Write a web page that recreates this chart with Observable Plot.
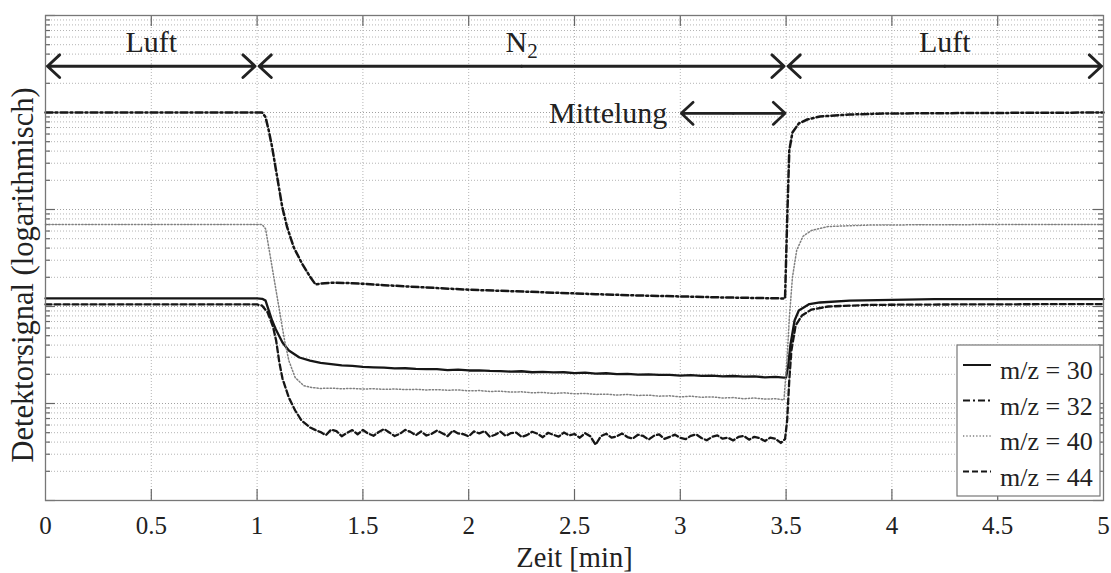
<!DOCTYPE html>
<html><head><meta charset="utf-8">
<script src="https://cdn.jsdelivr.net/npm/d3@7"></script>
<script src="https://cdn.jsdelivr.net/npm/@observablehq/plot@0.6"></script>
<style>
html,body{margin:0;padding:0;background:#fff;}
#chart{width:1111px;height:573px;}
</style></head><body><div id="chart"></div>
<script>
// ---------- data ----------
const seriesNames = ["m/z = 30", "m/z = 32", "m/z = 40", "m/z = 44"];

const t30 = [0, 0.5, 1.0, 1.024, 1.04, 1.055, 1.071, 1.087, 1.12, 1.15, 1.2, 1.25,
  1.30, 1.35, 1.40, 1.45, 1.50, 1.55, 1.60, 1.65, 1.70, 1.75, 1.80, 1.85, 1.90, 1.95,
  2.00, 2.05, 2.10, 2.15, 2.20, 2.25, 2.30, 2.35, 2.40, 2.45, 2.50, 2.55, 2.60, 2.65,
  2.70, 2.75, 2.80, 2.85, 2.90, 2.95, 3.00, 3.05, 3.10, 3.15, 3.20, 3.25, 3.30, 3.35,
  3.40, 3.45, 3.49, 3.50, 3.51, 3.52, 3.54, 3.56, 3.61, 3.66, 3.8, 4.2, 4.6, 5.0];
const v30 = [121, 121, 121, 120, 115, 91.0, 71.7, 58.9, 42.6, 35.2, 29.8, 27.7,
  26.2, 25.4, 24.7, 24.4, 23.9, 23.6, 23.4, 23.0, 23.1, 22.7, 22.6, 22.6, 22.1, 22.4,
  21.9, 22.0, 21.7, 21.6, 21.3, 21.5, 21.0, 21.2, 20.9, 21.0, 20.6, 20.8, 20.3, 20.5,
  20.1, 20.2, 19.8, 20.0, 19.7, 19.7, 19.4, 19.6, 19.3, 19.4, 19.0, 19.2, 18.9, 19.0,
  18.6, 18.8, 18.5, 18.6, 24.6, 39.6, 71.7, 91.0, 106, 110, 115, 119, 119, 119];

const t32 = [0, 0.5, 1.0, 1.024, 1.04, 1.055, 1.071, 1.087, 1.103, 1.119, 1.142, 1.173,
  1.213, 1.252, 1.276, 1.32, 1.36, 1.45, 1.6, 1.8, 2.0, 2.2, 2.4, 2.6, 2.8, 3.0, 3.2,
  3.4, 3.495, 3.505, 3.515, 3.53, 3.56, 3.6, 3.66, 3.8, 3.97, 4.5, 5.0];
const v32 = [10000, 10000, 10000, 10000, 8950, 6520, 4390, 2730, 1700, 1057, 657, 408,
  275, 200, 169, 174, 176, 174, 166, 157, 149, 144, 139, 134, 130, 127, 124,
  122, 121, 771, 4060, 6220, 7710, 8470, 9100, 9530, 9770, 9900, 10000];

const t40 = [0, 0.5, 1.0, 1.024, 1.04, 1.055, 1.071, 1.087, 1.103, 1.119, 1.13, 1.15,
  1.18, 1.22, 1.26, 1.30, 1.35, 1.40, 1.45, 1.50, 1.55, 1.60, 1.65, 1.70, 1.75, 1.80,
  1.85, 1.90, 1.95, 2.00, 2.05, 2.10, 2.15, 2.20, 2.25, 2.30, 2.35, 2.40, 2.45, 2.50,
  2.55, 2.60, 2.65, 2.70, 2.75, 2.80, 2.85, 2.90, 2.95, 3.00, 3.05, 3.10, 3.15, 3.20,
  3.25, 3.30, 3.35, 3.40, 3.45, 3.49, 3.505, 3.515, 3.53, 3.55, 3.58, 3.62, 3.7, 3.9,
  4.5, 5.0];
const v40 = [700, 700, 700, 700, 632, 409, 254, 158, 98.4, 61.2, 44.6, 27.7,
  18.5, 15.3, 14.6, 14.3, 14.4, 14.2, 14.3, 14.1, 14.2, 14.0, 14.1, 13.9, 14.0, 13.8,
  13.9, 13.7, 13.8, 13.5, 13.6, 13.3, 13.4, 13.1, 13.2, 12.9, 13.0, 12.7, 12.9, 12.6,
  12.7, 12.4, 12.5, 12.2, 12.4, 12.1, 12.2, 11.9, 12.0, 11.7, 11.9, 11.6, 11.7, 11.4,
  11.5, 11.2, 11.4, 11.1, 11.2, 10.9, 30, 75, 200, 380, 530, 608, 668, 692,
  700, 700];

const t44 = [0, 0.5, 1.0, 1.024, 1.05, 1.075, 1.09, 1.105, 1.12, 1.15, 1.18, 1.21, 1.25, 1.28,
  1.300, 1.325, 1.350, 1.375, 1.400, 1.425, 1.450, 1.475, 1.500, 1.525, 1.550, 1.575,
  1.600, 1.625, 1.650, 1.675, 1.700, 1.725, 1.750, 1.775, 1.800, 1.825, 1.850, 1.875,
  1.900, 1.925, 1.950, 1.975, 2.000, 2.025, 2.050, 2.075, 2.100, 2.125, 2.150, 2.175,
  2.200, 2.225, 2.250, 2.275, 2.300, 2.325, 2.350, 2.375, 2.400, 2.425, 2.450, 2.475,
  2.500, 2.525, 2.550, 2.575, 2.600, 2.625, 2.650, 2.675, 2.700, 2.725, 2.750, 2.775,
  2.800, 2.825, 2.850, 2.875, 2.900, 2.925, 2.950, 2.975, 3.000, 3.025, 3.050, 3.075,
  3.100, 3.125, 3.150, 3.175, 3.200, 3.225, 3.250, 3.275, 3.300, 3.325, 3.350, 3.375,
  3.400, 3.425, 3.450, 3.475,
  3.495, 3.505, 3.515, 3.525, 3.545, 3.575, 3.62, 3.7, 3.9, 4.3, 5.0];
const v44 = [105, 105, 105, 102, 86.7, 62.2, 44.6, 26.5, 18.1, 11.5, 8.47, 6.68, 5.66, 5.27,
  5.07, 4.72, 5.39, 5.19, 4.60, 4.97, 5.32, 4.82, 5.33, 4.90, 4.65, 5.09,
  5.46, 5.03, 4.62, 4.88, 5.35, 5.10, 4.71, 5.15, 4.68, 4.87, 5.26, 4.94,
  4.61, 5.26, 4.91, 4.83, 4.58, 5.15, 4.92, 5.20, 4.55, 4.76, 5.13, 4.63,
  4.96, 5.01, 4.52, 4.72, 5.11, 4.88, 4.49, 4.99, 4.76, 4.55, 5.02, 4.68,
  4.85, 4.44, 4.95, 4.59, 3.76, 4.61, 4.88, 4.44, 4.59, 4.90, 4.51, 4.35,
  4.76, 4.63, 4.24, 4.64, 4.81, 4.32, 4.53, 4.77, 4.42, 4.29, 4.64, 4.80,
  4.41, 4.18, 4.53, 4.69, 4.34, 4.45, 4.16, 4.52, 4.63, 4.24, 4.53, 4.39,
  4.10, 4.45, 4.32, 3.92,
  4.30, 6.7, 17.3, 35.2, 63.7, 80.8, 93.1, 100, 104, 105, 106];

const seriesT = [t30, t32, t40, t44];
const seriesV = [v30, v32, v40, v44];

// x ticks and labels
const xTicks = [0, 0.5, 1, 1.5, 2, 2.5, 3, 3.5, 4, 4.5, 5];
const xTickLabels = ["0", "0.5", "1", "1.5", "2", "2.5", "3", "3.5", "4", "4.5", "5"];
const xLabel = "Zeit [min]";
const yLabel = "Detektorsignal (logarithmisch)";
const yDecades = [1, 10, 100, 1000, 10000, 100000];
const yMultiples = [2, 3, 4, 5, 6, 7, 8, 9];

// annotations
const phaseLabels = ["Luft", "N2", "Luft"];
const phaseStart = [0, 1, 3.5];
const phaseEnd = [1, 3.5, 5];
const phaseArrowLevel = 30000;
const avgLabel = "Mittelung";
const avgStart = 3.0;
const avgEnd = 3.5;
const avgLevel = 9800;

// ---------- styles ----------
const lineStyles = [
  {stroke: "#161616", strokeWidth: 2.3, dash: null},
  {stroke: "#161616", strokeWidth: 2.5, dash: "7,3,2,3"},
  {stroke: "#808080", strokeWidth: 1.5, dash: "1.3,2"},
  {stroke: "#161616", strokeWidth: 2.3, dash: "6,3"}
];

const W = 1111, H = 573;
const mL = 45, mR = 8, mT = 15, mB = 73;
const fw = W - mL - mR, fh = H - mT - mB;
const gridColor = "#b4b4b4";
const tickColor = "#666";
const fontFamily = "'Liberation Serif', 'Times New Roman', serif";

const yMinor = yDecades.slice(0, -1).flatMap(d => yMultiples.map(m => m * d));

const lineMarks = seriesNames.map((name, i) => {
  const rows = seriesT[i].map((t, j) => ({t, v: seriesV[i][j]}));
  const s = lineStyles[i];
  return Plot.line(rows, {x: "t", y: "v", stroke: s.stroke, strokeWidth: s.strokeWidth,
    strokeDasharray: s.dash || undefined, strokeLinejoin: "round"});
});

const phaseArrows = phaseLabels.flatMap((l, i) => {
  const mid = (phaseStart[i] + phaseEnd[i]) / 2;
  return [{a: mid, b: phaseStart[i]}, {a: mid, b: phaseEnd[i]}];
});
const avgMid = (avgStart + avgEnd) / 2;
const avgArrows = [{a: avgMid, b: avgStart}, {a: avgMid, b: avgEnd}];

const plot = Plot.plot({
  width: W, height: H,
  marginLeft: mL, marginRight: mR, marginTop: mT, marginBottom: mB,
  x: {domain: [0, 5], axis: null},
  y: {type: "log", domain: [1, 100000], axis: null},
  style: {fontFamily, fontSize: "25px", background: "white", color: "#222"},
  marks: [
    // grid
    Plot.ruleY(yMinor, {y: d => d, stroke: gridColor, strokeWidth: 1, strokeDasharray: "1,2"}),
    Plot.ruleY(yDecades, {y: d => d, stroke: "#a0a0a0", strokeWidth: 1, strokeDasharray: "1,2"}),
    Plot.ruleX(xTicks.slice(1, -1), {x: d => d, stroke: gridColor, strokeWidth: 1, strokeDasharray: "1,2"}),
    // ticks (inside)
    Plot.ruleY(yDecades, {y: d => d, insetRight: fw - 10, stroke: tickColor, strokeWidth: 1.2}),
    Plot.ruleY(yDecades, {y: d => d, insetLeft: fw - 10, stroke: tickColor, strokeWidth: 1.2}),
    Plot.ruleY(yMinor, {y: d => d, insetRight: fw - 5, stroke: tickColor, strokeWidth: 1.2}),
    Plot.ruleY(yMinor, {y: d => d, insetLeft: fw - 5, stroke: tickColor, strokeWidth: 1.2}),
    Plot.ruleX(xTicks.slice(1, -1), {x: d => d, insetTop: fh - 11, stroke: tickColor, strokeWidth: 1.2}),
    Plot.ruleX(xTicks.slice(1, -1), {x: d => d, insetBottom: fh - 11, stroke: tickColor, strokeWidth: 1.2}),
    // data
    ...lineMarks,
    Plot.frame({stroke: "#777", strokeWidth: 1.3}),
    // tick labels + axis labels
    Plot.text(xTicks, {x: d => d, text: (d, i) => xTickLabels[i], frameAnchor: "bottom", lineAnchor: "middle",
      textAnchor: "middle", dy: 25, fontSize: 25, fill: "#222"}),
    Plot.text([xLabel], {text: d => d, frameAnchor: "bottom", lineAnchor: "middle", textAnchor: "middle",
      dy: 57, fontSize: 28.5, fill: "#222"}),
    Plot.text([yLabel], {text: d => d, frameAnchor: "left", lineAnchor: "middle", textAnchor: "middle",
      rotate: -90, dx: -22, dy: 17, fontSize: 30.5, fill: "#222"}),
    // annotations
    Plot.arrow(phaseArrows, {x1: "a", x2: "b", y1: () => phaseArrowLevel, y2: () => phaseArrowLevel,
      stroke: "#222", strokeWidth: 2.9, headLength: 8.6, headAngle: 86, insetEnd: 2}),
    Plot.text(phaseLabels, {x: (d, i) => (phaseStart[i] + phaseEnd[i]) / 2, text: d => d,
      frameAnchor: "top", lineAnchor: "middle", textAnchor: "middle", dy: 27, fontSize: 30, fill: "#222"}),
    Plot.arrow(avgArrows, {x1: "a", x2: "b", y1: () => avgLevel, y2: () => avgLevel,
      stroke: "#222", strokeWidth: 2.7, headLength: 9, headAngle: 86, insetEnd: 1}),
    Plot.text([avgLabel], {x: () => avgStart, y: () => avgLevel, text: d => d, textAnchor: "end",
      lineAnchor: "middle", dx: -13, fontSize: 30, fill: "#222"})
  ]
});

const svg = plot.tagName.toLowerCase() === "svg" ? plot : plot.querySelector("svg");

// N2 subscript
d3.select(svg).selectAll("text").filter(function () { return this.textContent === "N2"; })
  .each(function () {
    const t = d3.select(this);
    t.text(null);
    t.append("tspan").text("N");
    t.append("tspan").attr("dy", "0.3em").attr("font-size", "0.7em").text("2");
  });

// legend
const lgRight = W - mR - 3, lgBottom = H - mB - 4, lgW = 143, lgH = 151;
const lg = d3.select(svg).append("g").attr("font-family", fontFamily);
lg.append("rect").attr("x", lgRight - lgW).attr("y", lgBottom - lgH).attr("width", lgW).attr("height", lgH)
  .attr("fill", "white").attr("stroke", "#777").attr("stroke-width", 1.2);
seriesNames.forEach((name, i) => {
  const yb = lgBottom - lgH + 34 + i * 35.5;
  const s = lineStyles[i];
  lg.append("line").attr("x1", lgRight - lgW + 6).attr("x2", lgRight - lgW + 34)
    .attr("y1", yb - 14).attr("y2", yb - 14)
    .attr("stroke", s.stroke).attr("stroke-width", Math.min(s.strokeWidth, 2))
    .attr("stroke-dasharray", s.dash);
  lg.append("text").attr("x", lgRight - lgW + 43).attr("y", yb).attr("font-size", 26)
    .attr("text-anchor", "start").attr("fill", "#222").text(name);
});

document.getElementById("chart").appendChild(plot);
</script>
</body></html>
